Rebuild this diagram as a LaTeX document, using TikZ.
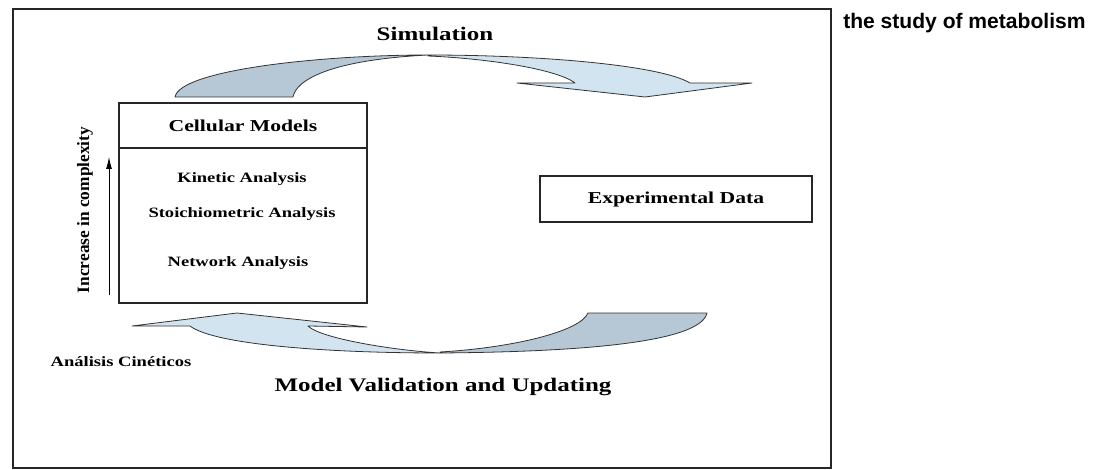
\documentclass[tikz,border=0pt]{standalone}
\usepackage{fontspec}
\setmainfont{Liberation Serif}
\newfontfamily\widefont[FakeStretch=1.3]{Liberation Serif}
\newfontfamily\arialfont{Liberation Sans}
\usetikzlibrary{arrows.meta}
\usetikzlibrary{positioning}
\definecolor{steel}{RGB}{182,200,214}
\definecolor{paleblue}{RGB}{210,228,240}
\tikzset{>=latex}
\tikzset{
  band/.style = {draw=black!80, line width=0.6pt, line join=round},
  darkband/.style = {band, fill=steel},
  lightband/.style = {band, fill=paleblue},
  modelbox/.style = {rectangle, draw=black!85, line width=0.8pt, inner sep=0, outer sep=0, minimum width=186pt, align=center},
  bigtxt/.style = {draw=none, inner sep=0, font=\widefont\bfseries\fontsize{14.4}{16}\selectfont},
  midtxt/.style = {font=\widefont\bfseries\fontsize{12.5}{14}\selectfont},
  smalltxt/.style = {draw=none, inner sep=0, font=\widefont\bfseries\fontsize{10.7}{12}\selectfont}
}

\begin{document}
\begin{tikzpicture}[x=0.75pt, y=-0.75pt]
\useasboundingbox (0,0) rectangle (1099,470);
\draw [line width=1.7pt, draw=black!85] (13,9) rectangle (831,468);
\node [draw=none, inner sep=0, anchor=base west, font=\arialfont\bfseries\fontsize{15.8}{18}\selectfont] (topic) at (843,29) {the study of metabolism};

% Simulation arrow
\draw [darkband] (175,97) .. controls (180,70) and (320,55) .. (428,55) .. controls (330,60) and (296,80) .. (293,97) -- cycle;
\draw [lightband] (428,55) .. controls (540,55) and (660,65) .. (690,83) -- (752,83) -- (645,97) -- (517,83) -- (575,83) .. controls (555,68) and (480,58) .. (428,56) -- cycle;
\node [bigtxt, anchor=base] (sim) at (435,41) {Simulation};

% Validation arrow
\draw [lightband] (190,326) .. controls (215,345) and (330,353) .. (440,353) .. controls (390,350) and (320,338) .. (308,326) -- (367,327) -- (237,313) -- (132,326) -- cycle;
\draw [darkband] (440,353) .. controls (560,352) and (700,345) .. (707,313) -- (588,313) .. controls (580,332) and (510,348) .. (440,352) -- cycle;
\node [bigtxt, anchor=base] (valid) at (443,391) {Model Validation and Updating};
\node [smalltxt, anchor=base] (kincast) at (121,366) {Análisis Cinéticos};

\node [modelbox, midtxt, minimum height=33.75pt] (head) at (243,125.5) {Cellular Models};
\node [modelbox, minimum height=116.25pt, below=0pt of head] (body) {};
\node [smalltxt, anchor=base] (kin) at (242,183) {Kinetic Analysis};
\node [smalltxt, anchor=base] (sto) at (242,218) {Stoichiometric Analysis};
\node [smalltxt, anchor=base] (net) at (238,267) {Network Analysis};

\coordinate (low) at (109,295);
\coordinate (high) at (109,157);
\draw [-{Latex[length=9pt, width=4.5pt]}, line width=0.6pt] (low) -- (high);
\node [draw=none, inner sep=0, rotate=90, font=\bfseries\fontsize{13}{15}\selectfont] (inc) at (85,210) {Increase in complexity};

\node [modelbox, midtxt, minimum width=204pt, minimum height=34.5pt] (exp) at (676,199) {Experimental Data};
\end{tikzpicture}
\end{document}
